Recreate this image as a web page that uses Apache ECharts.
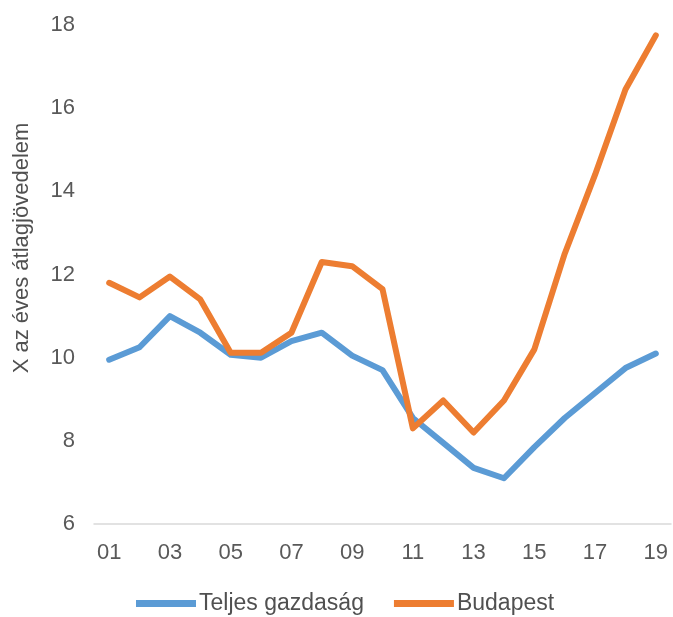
<!DOCTYPE html>
<html><head><meta charset="utf-8">
<script src="https://cdn.jsdelivr.net/npm/echarts@6/dist/echarts.min.js"></script>
<style>html,body{margin:0;padding:0;background:#fff}#c{width:673px;height:617px}</style>
</head><body><div id="c"></div>
<script>
var categories = ['01','02','03','04','05','06','07','08','09','10','11','12','13','14','15','16','17','18','19'];
var teljes = [9.95,10.25,11.0,10.6,10.07,10.0,10.4,10.6,10.05,9.7,8.55,7.95,7.35,7.1,7.85,8.55,9.15,9.75,10.1];
var budapest = [11.8,11.45,11.95,11.4,10.12,10.12,10.6,12.3,12.2,11.65,8.3,8.97,8.2,8.97,10.2,12.5,14.4,16.45,17.75];
var yTicks = {min:6, max:18, interval:2};
var yTitle = 'X az éves átlagjövedelem';
var chart = echarts.init(document.getElementById('c'));
var font = 'Liberation Sans, Arial, sans-serif';
chart.setOption({
  animation:false,
  grid:{left:94,right:2,top:25,bottom:93},
  legend:{top:587,left:131,itemWidth:60,itemHeight:7,itemGap:30,icon:'rect',
    textStyle:{fontFamily:font,fontSize:23,color:'#505050',padding:[0,0,0,-2]},
    data:['Teljes gazdaság','Budapest']},
  graphic:[{type:'text',x:22,y:248,z:10,rotation:Math.PI/2,
    style:{text:yTitle,fontFamily:font,fontSize:22,fill:'#505050',align:'center',verticalAlign:'middle'}}],
  xAxis:{type:'category',data:categories,boundaryGap:true,
    axisLine:{lineStyle:{color:'#d9d9d9',width:1.5}},axisTick:{show:false},
    axisLabel:{interval:1,fontFamily:font,fontSize:22,color:'#595959',margin:18}},
  yAxis:{type:'value',min:yTicks.min,max:yTicks.max,interval:yTicks.interval,
    axisLine:{show:false},axisTick:{show:false},splitLine:{show:false},
    axisLabel:{fontFamily:font,fontSize:22,color:'#595959',margin:19}},
  series:[
    {name:'Teljes gazdaság',type:'line',data:teljes,symbol:'none',lineStyle:{width:6,color:'#5B9BD5',cap:'round',join:'round'},itemStyle:{color:'#5B9BD5'}},
    {name:'Budapest',type:'line',data:budapest,symbol:'none',lineStyle:{width:6,color:'#ED7D31',cap:'round',join:'round'},itemStyle:{color:'#ED7D31'}}
  ]
});
</script></body></html>
